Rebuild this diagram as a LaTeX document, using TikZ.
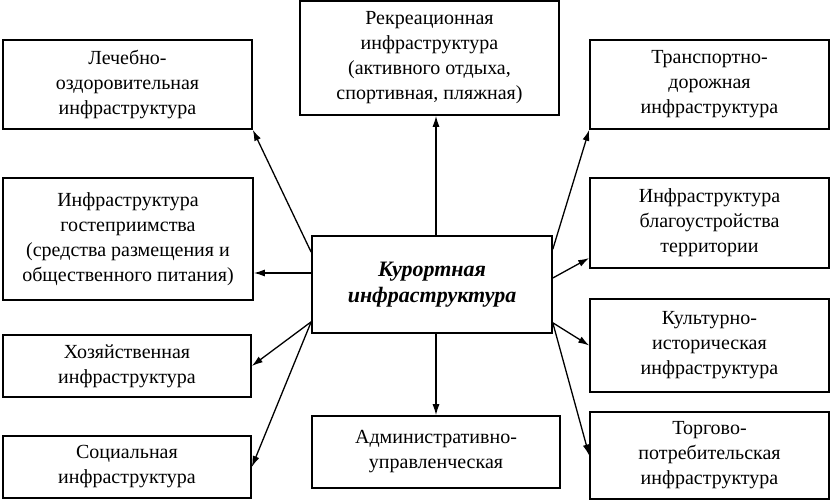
\documentclass[tikz,border=0pt]{standalone}
\usepackage{fontspec}
\setmainfont{Liberation Serif}
\usetikzlibrary{arrows.meta}
\tikzset{
  blok/.style={draw, line width=0.8pt, align=center, inner sep=0pt, font=\fontsize{10}{12.5}\selectfont},
  strelka/.style={-{Latex[length=5.5pt,width=3.5pt]}, line width=0.65pt},
}

\begin{document}
\begin{tikzpicture}[x=0.5pt, y=-0.5pt]
        \useasboundingbox (0,0) rectangle (831,503);
        % центральный блок
        \node[blok, minimum width=120pt, minimum height=48.5pt, font=\fontsize{11}{13}\selectfont\bfseries\itshape] (kurort) at (432,284.5) {Курортная\\инфраструктура};
        % верх и низ
        \node[blok, minimum width=129.5pt, minimum height=57pt] (rekr) at (429.5,58) {Рекреационная\\инфраструктура\\(активного отдыха,\\спортивная, пляжная)};
        \node[blok, minimum width=124pt, minimum height=36pt] (adm) at (436,452) {Административно-\\управленческая};
        % левая колонка
        \node[blok, minimum width=124.5pt, minimum height=44.5pt] (lech) at (127.5,84.5) {Лечебно-\\оздоровительная\\инфраструктура};
        \node[blok, minimum width=125pt, minimum height=61pt] (gost) at (128,239) {Инфраструктура\\гостеприимства\\(средства размещения и\\общественного питания)};
        \node[blok, minimum width=124pt, minimum height=31pt] (xoz) at (127,366) {Хозяйственная\\инфраструктура};
        \node[blok, minimum width=124pt, minimum height=31pt] (soc) at (127,467) {Социальная\\инфраструктура};
        % правая колонка
        \node[blok, minimum width=119.5pt, minimum height=44.5pt] (trans) at (709.5,84.5) {Транспортно-\\дорожная\\инфраструктура};
        \node[blok, minimum width=119.5pt, minimum height=45pt] (blag) at (709.5,223) {Инфраструктура\\благоустройства\\территории};
        \node[blok, minimum width=119.5pt, minimum height=46.5pt] (kult) at (709.5,345.5) {Культурно-\\историческая\\инфраструктура};
        \node[blok, minimum width=119.5pt, minimum height=43.5pt] (torg) at (709.5,455.5) {Торгово-\\потребительская\\инфраструктура};
        % точки выхода стрелок
        \coordinate (levniz) at ([yshift=6pt]kurort.south west);
        \coordinate (pravniz) at ([yshift=5.5pt]kurort.south east);
        % стрелки
        \draw[strelka] ([xshift=2pt]kurort.north) -- ([xshift=2pt]kurort.north |- rekr.south);
        \draw[strelka] ([xshift=2pt]kurort.south) -- ([xshift=2pt]kurort.south |- adm.north);
        \draw[strelka] ([yshift=-8.5pt]kurort.north west) -- (lech.south east);
        \draw[strelka] ([yshift=5.75pt]kurort.west) -- ([yshift=5.75pt]kurort.west -| gost.east);
        \draw[strelka] (levniz) -- (xoz.east);
        \draw[strelka] (levniz) -- (soc.east);
        \draw[strelka] ([yshift=-7pt]kurort.north east) -- (trans.south west);
        \draw[strelka] ([yshift=3.25pt]kurort.east) -- ([yshift=-17.5pt]blag.west);
        \draw[strelka] (pravniz) -- (kult.west);
        \draw[strelka] (pravniz) -- (torg.west);
    \end{tikzpicture}
\end{document}
